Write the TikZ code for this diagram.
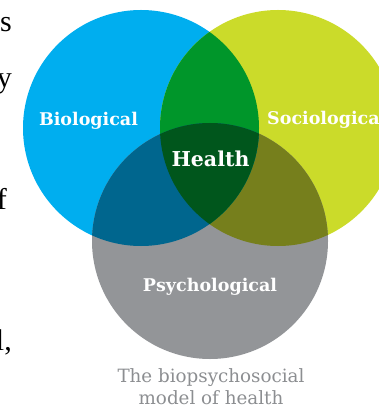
\documentclass[tikz,border=0pt]{standalone}
\usepackage{fontspec}
\setmainfont{DejaVu Serif}
\newfontfamily\bodyfont{Liberation Serif}
\usepackage{xcolor}
\usetikzlibrary{positioning}

\definecolor{bioblue}{HTML}{00AEEF}
\definecolor{socgreen}{HTML}{CBDB2A}
\definecolor{psygray}{HTML}{939598}
\definecolor{biosoc}{HTML}{00962A}
\definecolor{biopsy}{HTML}{00668E}
\definecolor{socpsy}{HTML}{767F1C}
\definecolor{allthree}{HTML}{00561C}
\definecolor{captiongray}{HTML}{8C8E91}

\begin{document}
\begin{tikzpicture}[
        x=1pt,y=-1pt,
        sphere/.style={text=white,inner sep=0pt,anchor=base,font=\bfseries\fontsize{17.5}{21}\selectfont},
        body/.style={inner sep=0pt,anchor=base east,font=\bodyfont\fontsize{30}{34}\selectfont},
        caption/.style={text=captiongray,inner sep=0pt,align=center,font=\fontsize{18.3}{22}\selectfont}
    ]
        \useasboundingbox (0,0) rectangle (378,411);
        \def\rad{118}
        \coordinate (bio) at (141,128);
        \coordinate (soc) at (278,128);
        \coordinate (psy) at (210,241);

        % the three circles
        \fill[bioblue] (bio) circle (\rad);
        \fill[socgreen] (soc) circle (\rad);
        \fill[psygray] (psy) circle (\rad);

        % overlaps
        \begin{scope}
            \clip (soc) circle (\rad);
            \fill[socpsy] (psy) circle (\rad);
        \end{scope}
        \begin{scope}
            \clip (bio) circle (\rad);
            \fill[biosoc] (soc) circle (\rad);
            \fill[biopsy] (psy) circle (\rad);
            \clip (soc) circle (\rad);
            \fill[allthree] (psy) circle (\rad);
        \end{scope}

        \node[sphere] (biolabel) at (88.5,125.5) {Biological};
        \node[sphere,anchor=base west] (soclabel) at (267,125) {Sociological};
        \node[sphere,font=\bfseries\fontsize{20.5}{24}\selectfont] (healthlabel) at (210.5,166.5) {Health};
        \node[sphere] (psylabel) at (210,291.5) {Psychological};

        \node[caption,anchor=base] (caption) at (211,404) {The biopsychosocial\\model of health};

        % cut-off body text on the left
        \node[body] (line1) at (12,32) {’s};
        \node[body] (line2) at (12,88) {y};
        \node[body] (line3) at (7,210) {f};
        \node[body] (line4) at (12,350) {l,};
    \end{tikzpicture}
\end{document}
